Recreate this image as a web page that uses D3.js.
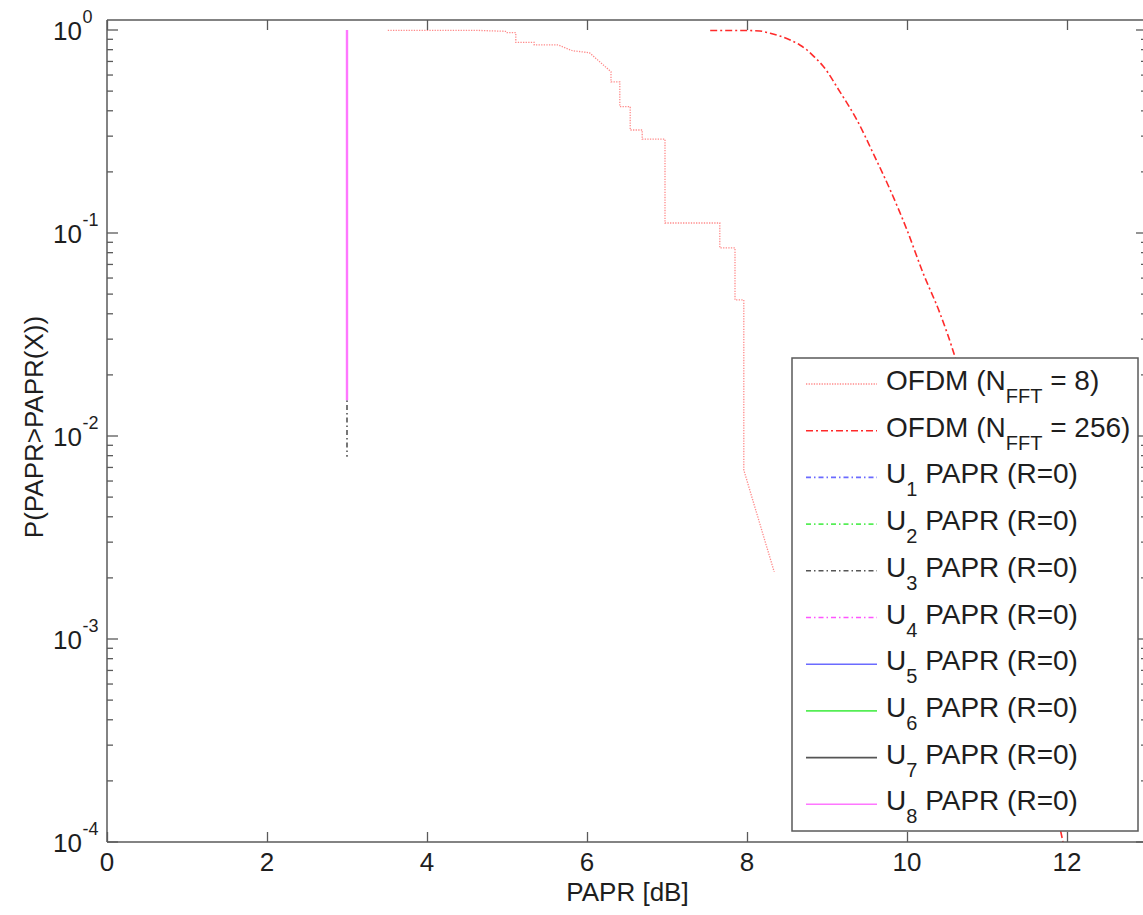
<!DOCTYPE html>
<html>
<head>
<meta charset="utf-8">
<script src="https://cdn.jsdelivr.net/npm/d3@7"></script>
<style>
  html, body { margin: 0; padding: 0; background: #fff; }
  svg { display: block; font-family: "Liberation Sans", Arial, sans-serif; }
</style>
</head>
<body>
<svg id="chart" width="1143" height="915"></svg>
<script>
// ---- data ----
// OFDM, N_FFT = 8 : empirical CCDF (staircase), [PAPR dB, probability]
const ofdm8 = [
  [3.51, 0.995], [4.65, 0.995], [4.99, 0.985], [5.00, 0.97], [5.11, 0.97],
  [5.11, 0.87], [5.34, 0.87], [5.34, 0.844], [5.64, 0.844], [5.82, 0.79],
  [6.03, 0.773], [6.30, 0.623], [6.30, 0.555], [6.41, 0.555], [6.41, 0.419],
  [6.54, 0.419], [6.54, 0.3216], [6.69, 0.3216], [6.69, 0.290], [6.975, 0.290],
  [6.975, 0.112], [7.66, 0.112], [7.66, 0.0844], [7.85, 0.0844], [7.85, 0.0468],
  [7.96, 0.0468], [7.96, 0.0068], [8.34, 0.00214]
];
// OFDM, N_FFT = 256 : CCDF
const ofdm256 = [
  [7.54, 0.995], [8.01, 0.994], [8.16, 0.989], [8.29, 0.963], [8.41, 0.934],
  [8.54, 0.893], [8.66, 0.844], [8.75, 0.797], [8.85, 0.732], [8.95, 0.665],
  [9.16, 0.497], [9.375, 0.360], [9.575, 0.248], [9.79, 0.163], [10.00, 0.1035],
  [10.20, 0.0636], [10.41, 0.0404], [10.60, 0.0245], [11.00, 0.0054],
  [11.50, 0.00066], [11.95, 0.0001]
];
// U_1 ... U_8 (R = 0): constant PAPR, vertical CCDF drop at 3 dB
const uLabels = ["1", "2", "3", "4", "5", "6", "7", "8"];
const uPapr = [3, 3, 3, 3, 3, 3, 3, 3];
const uTop = [1, 1, 1, 1, 1, 1, 1, 1];
const uBottom = [0.015, 0.015, 0.0079, 0.015, 0.015, 0.015, 0.015, 0.015];

const xTicks = [0, 2, 4, 6, 8, 10, 12];
const yDecades = [-4, -3, -2, -1, 0];

// ---- styles ----
const uStyles = [
  { color: "#6b6bff", dash: "5,3,1.5,3", width: 1.6 },
  { color: "#55ee55", dash: "5,3,1.5,3", width: 1.6 },
  { color: "#555555", dash: "5,3,1.5,3", width: 1.6 },
  { color: "#ff55ff", dash: "5,3,1.5,3", width: 1.6 },
  { color: "#6b6bff", dash: null, width: 1.6 },
  { color: "#55ee55", dash: null, width: 1.6 },
  { color: "#555555", dash: null, width: 1.6 },
  { color: "#ff77ff", dash: null, width: 2.4 }
];
const s8 = { color: "#ff8a8a", dash: "1.3,1.3", width: 1.3 };
const s256 = { color: "#ff2a2a", dash: "7,3,2,3", width: 1.6 };

// ---- layout ----
const svg = d3.select("#chart");
const L = 107, R = 1147, T = 20, B = 842;
const axisColor = "#5a5a5a", textColor = "#1e1e1e";

const x = d3.scaleLinear().domain([0, 13]).range([L, R]);
const y = d3.scaleLog().domain([1e-4, Math.pow(10, 10 / 203)]).range([B, T]);

svg.append("defs").append("clipPath").attr("id", "plotClip")
  .append("rect").attr("x", L).attr("y", T).attr("width", R - L).attr("height", B - T);

const plot = svg.append("g").attr("clip-path", "url(#plotClip)");
const line = d3.line().x(d => x(d[0])).y(d => y(d[1]));
const smooth = d3.line().x(d => x(d[0])).y(d => y(d[1])).curve(d3.curveMonotoneX);

// OFDM curves
plot.append("path").datum(ofdm8).attr("d", line)
  .attr("fill", "none").attr("stroke", s8.color).attr("stroke-width", s8.width)
  .attr("stroke-dasharray", s8.dash);
plot.append("path").datum(ofdm256).attr("d", smooth)
  .attr("fill", "none").attr("stroke", s256.color).attr("stroke-width", s256.width)
  .attr("stroke-dasharray", s256.dash);

// U curves (drawn in order so U_8 is on top)
uLabels.forEach((lab, i) => {
  const pts = [[uPapr[i], uTop[i]], [uPapr[i], uBottom[i]]];
  const p = plot.append("path").datum(pts).attr("d", line)
    .attr("fill", "none").attr("stroke", uStyles[i].color).attr("stroke-width", uStyles[i].width);
  if (uStyles[i].dash) p.attr("stroke-dasharray", uStyles[i].dash);
});

// ---- axes frame & ticks ----
const frame = svg.append("g").attr("stroke", axisColor).attr("stroke-width", 1.5).attr("fill", "none");
frame.append("line").attr("x1", L).attr("x2", R).attr("y1", B).attr("y2", B);
frame.append("line").attr("x1", L).attr("x2", R).attr("y1", T).attr("y2", T);
frame.append("line").attr("x1", L).attr("x2", L).attr("y1", T).attr("y2", B);
frame.append("line").attr("x1", R).attr("x2", R).attr("y1", T).attr("y2", B);

const tickG = svg.append("g").attr("stroke", axisColor).attr("stroke-width", 1.3);
xTicks.forEach(v => {
  const px = Math.round(x(v)) + 0.5;
  tickG.append("line").attr("x1", px).attr("x2", px).attr("y1", B).attr("y2", B - 10);
  tickG.append("line").attr("x1", px).attr("x2", px).attr("y1", T).attr("y2", T + 10);
});
yDecades.forEach(e => {
  const py = y(Math.pow(10, e));
  tickG.append("line").attr("x1", L).attr("x2", L + 11).attr("y1", py).attr("y2", py);
  tickG.append("line").attr("x1", R).attr("x2", R - 11).attr("y1", py).attr("y2", py);
  if (e < 0) {
    for (let m = 2; m <= 9; m++) {
      const pm = y(m * Math.pow(10, e));
      tickG.append("line").attr("x1", L).attr("x2", L + 6).attr("y1", pm).attr("y2", pm);
      tickG.append("line").attr("x1", R).attr("x2", R - 6).attr("y1", pm).attr("y2", pm);
    }
  }
});

// tick labels
const labels = svg.append("g").attr("fill", textColor);
xTicks.forEach(v => {
  labels.append("text").attr("x", x(v)).attr("y", 871)
    .attr("text-anchor", "middle").attr("font-size", 26).text(v);
});
yDecades.forEach(e => {
  const py = y(Math.pow(10, e));
  labels.append("text").attr("x", 82).attr("y", py + 10)
    .attr("text-anchor", "end").attr("font-size", 26).text("10");
  labels.append("text").attr("x", 82.5).attr("y", py - 7)
    .attr("text-anchor", "start").attr("font-size", 18).text(e);
});

// axis titles
labels.append("text").attr("x", 627.5).attr("y", 901)
  .attr("text-anchor", "middle").attr("font-size", 26).text("PAPR [dB]");
labels.append("text").attr("transform", "translate(43,427) rotate(-90)")
  .attr("text-anchor", "middle").attr("font-size", 26).text("P(PAPR>PAPR(X))");

// ---- legend ----
const lg = svg.append("g");
lg.append("rect").attr("x", 792).attr("y", 358).attr("width", 346).attr("height", 473)
  .attr("fill", "#fff").attr("stroke", axisColor).attr("stroke-width", 1.5);

const entries = [
  { style: s8, main: "OFDM (N", sub: "FFT", rest: " = 8)" },
  { style: s256, main: "OFDM (N", sub: "FFT", rest: " = 256)" }
].concat(uLabels.map((lab, i) => ({
  style: { color: uStyles[i].color, dash: uStyles[i].dash, width: 1.6 },
  main: "U", sub: lab, rest: " PAPR (R=0)"
})));

entries.forEach((en, i) => {
  const cy = 384 + i * 46.7;
  const ln = lg.append("line").attr("x1", 806).attr("x2", 877).attr("y1", cy).attr("y2", cy)
    .attr("stroke", en.style.color).attr("stroke-width", en.style.width || 1.6);
  if (en.style.dash) ln.attr("stroke-dasharray", en.style.dash);
  const t = lg.append("text").attr("x", 886).attr("y", cy + 6)
    .attr("font-size", 28).attr("fill", textColor);
  t.append("tspan").text(en.main);
  t.append("tspan").attr("dy", 13).attr("font-size", 20).text(en.sub);
  t.append("tspan").attr("dy", -13).attr("font-size", 28).text(en.rest);
});
</script>
</body>
</html>
